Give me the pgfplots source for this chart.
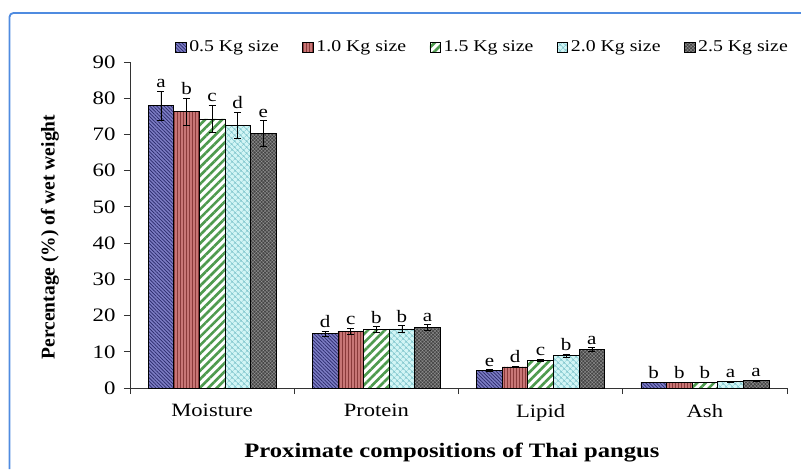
\documentclass[border=0pt]{standalone}
\usepackage{fontspec}
\setmainfont{Liberation Serif}[FakeStretch=1.2]
\newfontfamily\ylabfont{Liberation Serif}
\usepackage{pgfplots}
\pgfplotsset{compat=1.18}
\usepackage{pgfplotstable}
\usetikzlibrary{patterns,patterns.meta}
\definecolor{framec}{HTML}{4F8BE0}
\definecolor{cA}{HTML}{7C7CC4}
\definecolor{cAd}{HTML}{2A2A6A}
\definecolor{cB}{HTML}{C87676}
\definecolor{cBd}{HTML}{8A3A3A}
\definecolor{cC}{HTML}{FFFFFF}
\definecolor{cCd}{HTML}{4E9A4E}
\definecolor{cD}{HTML}{D2F5F5}
\definecolor{cDd}{HTML}{7EC4CC}
\definecolor{cE}{HTML}{454545}
\definecolor{cEd}{HTML}{959595}

\pgfplotstableread{
x y e l
0 78.0 4.0 a
1 15.0 0.7 d
2 4.9 0.2 e
3 1.6 0.1 b
}\tA
\pgfplotstableread{
x y e l
0 76.3 3.8 b
1 15.7 0.8 c
2 5.8 0.2 d
3 1.6 0.1 b
}\tB
\pgfplotstableread{
x y e l
0 74.3 3.7 c
1 16.1 0.8 b
2 7.6 0.3 c
3 1.6 0.1 b
}\tC
\pgfplotstableread{
x y e l
0 72.5 3.6 d
1 16.3 0.9 b
2 9.0 0.4 b
3 1.8 0.1 a
}\tD
\pgfplotstableread{
x y e l
0 70.3 3.5 e
1 16.7 0.8 a
2 10.6 0.5 a
3 2.0 0.1 a
}\tE

\begin{document}
\begin{tikzpicture}
\path[use as bounding box] (0pt,0pt) rectangle (801pt,469pt);
\draw[framec, line width=1.8pt] (9.5pt,0pt) -- (9.5pt,452pt) arc[start angle=180,end angle=90,radius=4pt] -- (801pt,456pt);
\begin{axis}[
  at={(130pt,81pt)}, anchor=south west,
  scale only axis, width=657pt, height=326pt,
  ymin=0, ymax=90, ytick={0,10,...,90},
  xmin=-0.5, xmax=3.5,
  xtick={-0.5,0.5,1.5,2.5,3.5}, xticklabels={},
  extra x ticks={0,1,2,3},
  extra x tick labels={Moisture,Protein,Lipid,Ash},
  extra x tick style={tick style={draw=none}, tick label style={font=\fontsize{18.8}{21}\selectfont, yshift=-7pt}},
  axis x line*=bottom, axis y line*=left,
  axis line style={-, black!80, line width=0.8pt},
  tick style={black!80, line width=0.8pt},
  tick align=outside, major tick length=6pt,
  /pgf/number format/assume math mode=true,
  yticklabel style={font=\fontsize{19}{21}\selectfont, xshift=-5pt},
  ybar=0pt, bar width=25.6pt,
  ylabel={\ylabfont\bfseries Percentage (\%) of wet weight},
  ylabel style={font=\fontsize{19.5}{22}\selectfont, at={(axis description cs:-0.1218,0.463)}, anchor=center},
  xlabel={\bfseries Proximate compositions of Thai pangus},
  xlabel style={font=\fontsize{20.5}{23}\selectfont, at={(axis description cs:0.490,-0.1994)}, anchor=center},
  error bars/y dir=both, error bars/y explicit,
  error bars/error bar style={black, line width=0.6pt},
  error bars/error mark options={rotate=90, black, mark size=3.5pt, line width=0.6pt},
  point meta=explicit symbolic,
  nodes near coords,
  visualization depends on={\thisrow{e} \as \err},
  nodes near coords style={font=\fontsize{17.5}{19}\selectfont, black, anchor=south, inner sep=1pt, yshift={(\err*3.6222+2)*1pt}},
  legend columns=5,
  legend image code/.code={\draw[#1, line width=0.6pt] (0pt,-5pt) rectangle (10.5pt,5pt);},
  legend style={draw=none, fill=none, inner sep=0pt, at={(axis description cs:1.0046,1.046)}, anchor=east,
     font=\fontsize{16.5}{18}\selectfont,
     /tikz/every even column/.append style={column sep=21.5pt},
     /tikz/every odd column/.append style={column sep=1pt}},
]
\addplot[draw=black, line width=0.7pt, fill=cA, postaction={pattern={Lines[angle=-45,distance=2.5pt,line width=0.7pt]}, pattern color=cAd}]
  table[x=x,y=y,y error=e,meta=l]{\tA};
\addplot[draw=black, line width=0.7pt, fill=cB, postaction={pattern={Lines[angle=90,distance=3pt,line width=0.6pt]}, pattern color=cBd}]
  table[x=x,y=y,y error=e,meta=l]{\tB};
\addplot[draw=black, line width=0.7pt, fill=cC, postaction={pattern={Lines[angle=45,distance=6pt,line width=2.6pt]}, pattern color=cCd}]
  table[x=x,y=y,y error=e,meta=l]{\tC};
\addplot[draw=black, line width=0.7pt, fill=cD, postaction={pattern={Hatch[angle=45,distance=4pt,line width=0.6pt]}, pattern color=cDd}]
  table[x=x,y=y,y error=e,meta=l]{\tD};
\addplot[draw=black, line width=0.7pt, fill=cE, postaction={pattern={Hatch[angle=45,distance=2.5pt,line width=0.35pt]}, pattern color=cEd}]
  table[x=x,y=y,y error=e,meta=l]{\tE};
\legend{0.5 Kg size,1.0 Kg size,1.5 Kg size,2.0 Kg size,2.5 Kg size}
\end{axis}
\end{tikzpicture}
\end{document}
